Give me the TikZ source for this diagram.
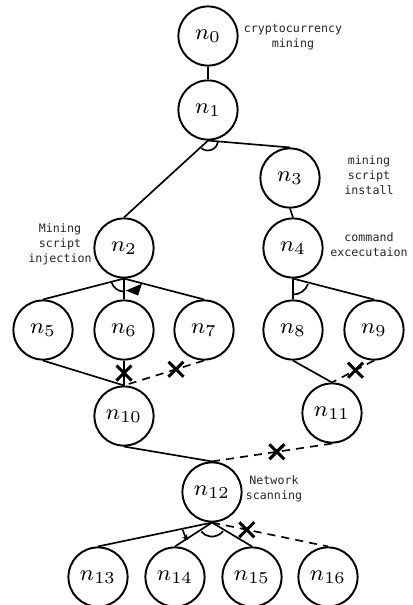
\documentclass[tikz,border=0pt]{standalone}
\usepackage{amsmath,amssymb}
\usepackage{fontspec}
\newfontfamily\notefont{DejaVu Sans Mono}
\usetikzlibrary{shapes.misc}
\usetikzlibrary{arrows.meta}

\begin{document}
\begin{tikzpicture}[x=0.36pt,y=-0.36pt,
    state/.style={circle,draw,line width=0.7pt,minimum size=21.3pt,inner sep=0pt,
      font=\fontsize{8.5}{10}\selectfont},
    note/.style={align=center,text=black!85,
      font=\notefont\fontsize{4.2}{5.4}\selectfont},
    blocked/.style={cross out,draw,line width=1.1pt,minimum size=4.3pt,inner sep=0pt},
    guess/.style={dash pattern=on 2.9pt off 2.2pt},
    link/.style={line width=0.6pt}]
        \useasboundingbox (0,0) rectangle (413,605);
        %
        \node [state] (n0) at (208,36) {$n_0$};
        \node [state] (n1) at (208,110) {$n_1$};
        \node [state] (n2) at (124,248) {$n_2$};
        \node [state] (n3) at (290,178) {$n_3$};
        \node [state] (n4) at (293,248) {$n_4$};
        \node [state] (n5) at (43,330) {$n_5$};
        \node [state] (n6) at (124,330) {$n_6$};
        \node [state] (n7) at (204,330) {$n_7$};
        \node [state] (n8) at (293,330) {$n_8$};
        \node [state] (n9) at (374,330) {$n_9$};
        \node [state] (n10) at (124,416) {$n_{10}$};
        \node [state] (n11) at (332,413) {$n_{11}$};
        \node [state] (n12) at (212,492) {$n_{12}$};
        \node [state] (n13) at (98,577) {$n_{13}$};
        \node [state] (n14) at (175,577) {$n_{14}$};
        \node [state] (n15) at (252,577) {$n_{15}$};
        \node [state] (n16) at (328,577) {$n_{16}$};
        %
        \node [note] (t0) at (293,37) {cryptocurrency\\mining};
        \node [note] (t3) at (369,175) {mining\\script\\install};
        \node [note] (t2) at (60,244) {Mining\\script\\injection};
        \node [note] (t4) at (369,245) {command\\excecutaion};
        \node [note] (t12) at (274,489) {Network\\scanning};
        %
        \draw [link] (n0.south) -- (n1.north);
        \draw [link] (n1.south) -- (n2.north);
        \draw [link] (n1.south) -- (n3.north);
        \draw [link] ([shift={(8:10)}]n1.south) arc [start angle=8, end angle=130, radius=10];
        \draw [link] (n3.south) -- (n4.north);
        %
        \draw [link] (n2.south) -- (n5.north);
        \draw [link] (n2.south) -- (n6.north);
        \draw [link] (n2.south) -- (n7.north);
        \draw [link] ([shift={(92:13)}]n2.south) arc [start angle=92, end angle=162, radius=13];
        \fill ([shift={(2,12)}]n2.south) -- ([shift={(18,5)}]n2.south) -- ([shift={(14,17)}]n2.south) -- cycle;
        %
        \draw [link] (n4.south) -- (n8.north);
        \draw [link] (n4.south) -- (n9.north);
        \draw [link] ([shift={(20:16)}]n4.south) arc [start angle=20, end angle=90, radius=16];
        %
        \draw [link] (n5.south) -- (n10.north);
        \draw [link] (n6.south) -- node [blocked] {} (n10.north);
        \draw [link,guess] (n7.south) -- node [blocked,pos=0.35,solid] {} (n10.north);
        \draw [link] (n8.south) -- (n11.north);
        \draw [link,guess] (n9.south) -- node [blocked,pos=0.44,solid] {} (n11.north);
        %
        \draw [link] (n10.south) -- (n12.north);
        \draw [link,guess] (n11.south) -- node [blocked,pos=0.46,solid] {} (n12.north);
        %
        \draw [link] (n12.south) -- (n13.north);
        \draw [link] (n12.south) -- (n14.north);
        \draw [link] (n12.south) -- (n15.north);
        \draw [link,guess] (n12.south) -- node [blocked,pos=0.3,solid] {} (n16.north);
        \draw [link,-{Stealth[length=2pt,width=2.2pt]}] ([shift={(166:30)}]n12.south) arc [start angle=166, end angle=144, radius=30];
        \draw [link] ([shift={(38:14)}]n12.south) arc [start angle=38, end angle=140, radius=14];
      \end{tikzpicture}
\end{document}
